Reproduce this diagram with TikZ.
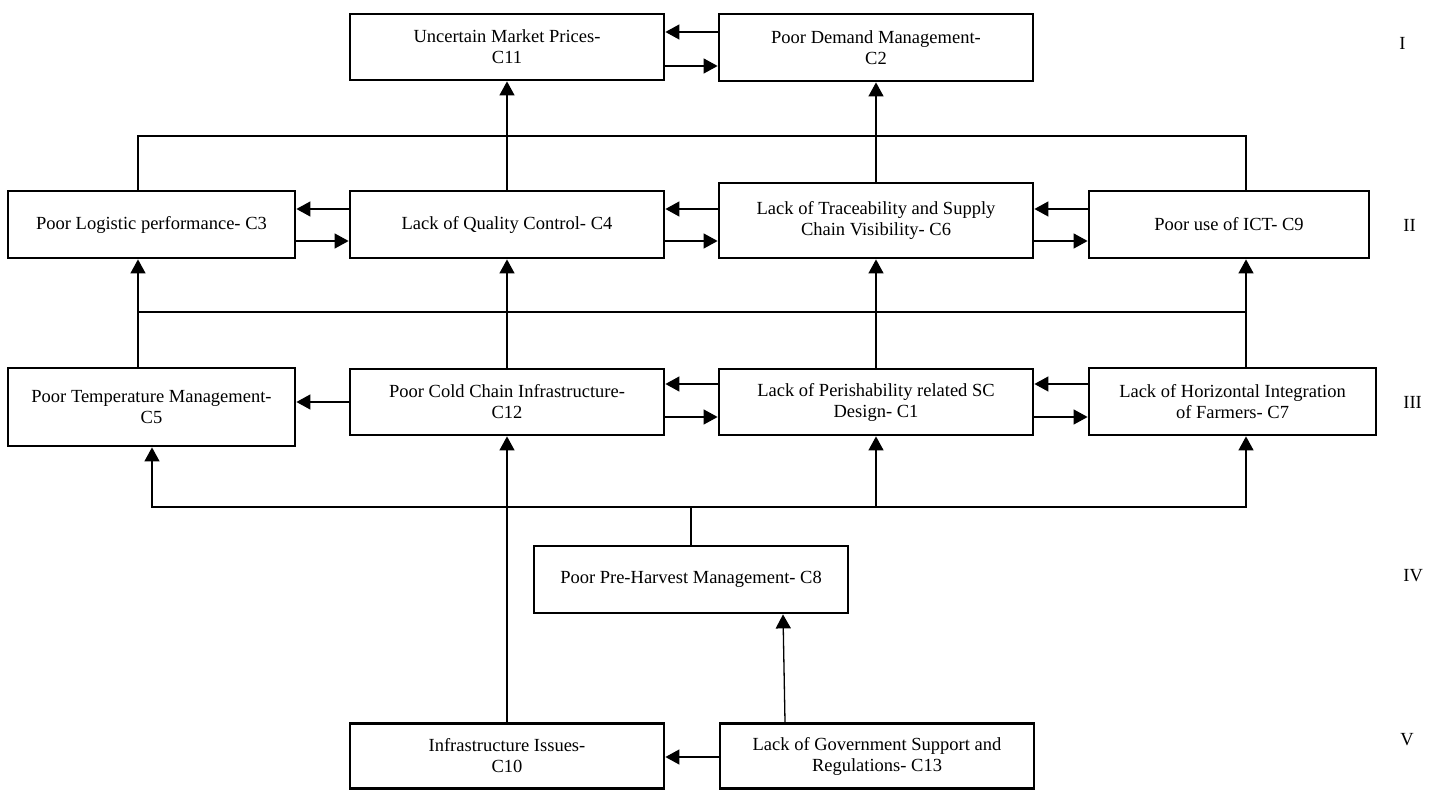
\documentclass[tikz,border=0pt]{standalone}
\usepackage{fontspec}
\setmainfont{Liberation Serif}
\usetikzlibrary{arrows.meta}
\begin{document}
\begin{tikzpicture}[x=0.5pt,y=-0.5pt,
  font=\fontsize{9.25}{10.5}\selectfont,
  box/.style={draw, line width=1.4pt, align=center, inner sep=0pt},
  conn/.style={line width=0.65pt},
  arr/.style={conn, -{Triangle[length=7pt,width=7.5pt]}},
  lvl/.style={anchor=west, inner sep=0pt}]
\useasboundingbox (0,0) rectangle (1438,790);
% level I
\node[box, minimum width=157pt, minimum height=33pt] (C11) at (507,47) {Uncertain Market Prices-\\C11};
\node[box, minimum width=157pt, minimum height=33.5pt] (C2) at (876,47.5) {Poor Demand Management-\\C2};
% level II
\node[box, minimum width=143.5pt, minimum height=33.5pt] (C3) at (151.5,224.5) {Poor Logistic performance- C3};
\node[box, minimum width=157pt, minimum height=33.5pt] (C4) at (507,224.5) {Lack of Quality Control- C4};
\node[box, minimum width=157pt, minimum height=37.5pt] (C6) at (876,220.5) {Lack of Traceability and Supply\\Chain Visibility- C6};
\node[box, minimum width=140pt, minimum height=33.5pt] (C9) at (1229,224.5) {Poor use of ICT- C9};
% level III
\node[box, minimum width=143.5pt, minimum height=39pt] (C5) at (151.5,407) {Poor Temperature Management-\\C5};
\node[box, minimum width=157pt, minimum height=33pt] (C12) at (507,402) {Poor Cold Chain Infrastructure-\\C12};
\node[box, minimum width=157pt, minimum height=33pt] (C1) at (876,402) {Lack of Perishability related SC\\Design- C1};
\node[box, minimum width=143.5pt, minimum height=33.5pt] (C7) at (1232.5,401.5) {Lack of Horizontal Integration\\of Farmers- C7};
% level IV
\node[box, minimum width=157pt, minimum height=33.5pt] (C8) at (691,579.5) {Poor Pre-Harvest Management- C8};
% level V
\node[box, minimum width=157pt, minimum height=32.5pt] (C10) at (507,756) {Infrastructure Issues-\\C10};
\node[box, minimum width=157pt, minimum height=32.5pt] (C13) at (877,756) {Lack of Government Support and\\Regulations- C13};
% level labels
\node[lvl] (L1) at (1399,43) {I};
\node[lvl] (L2) at (1403,225) {II};
\node[lvl] (L3) at (1403,402) {III};
\node[lvl] (L4) at (1403,576) {IV};
\node[lvl] (L5) at (1400,740) {V};
% bus coordinates
\coordinate (b1L) at (138,136);
\coordinate (b1R) at (1246,136);
\coordinate (b2L) at (138,312);
\coordinate (b2R) at (1246,312);
\coordinate (b3L) at (152,507);
\coordinate (b3M) at (691,507);
\coordinate (b3C) at (876,507);
\coordinate (b3R) at (1246,507);
% level I links
\draw[arr] (C2.west |- 0,32) -- (C11.east |- 0,32);
\draw[arr] (C11.east |- 0,66) -- (C2.west |- 0,66);
\draw[arr] (C4.north) -- (C11.south);
\draw[arr] (C6.north) -- (C2.south);
\draw[conn] (C3.north -| b1L) -- (b1L) -- (b1R) -- (C9.north -| b1R);
% level II links
\draw[arr] (C4.west |- 0,209) -- (C3.east |- 0,209);
\draw[arr] (C3.east |- 0,241) -- (C4.west |- 0,241);
\draw[arr] (C6.west |- 0,209) -- (C4.east |- 0,209);
\draw[arr] (C4.east |- 0,241) -- (C6.west |- 0,241);
\draw[arr] (C9.west |- 0,209) -- (C6.east |- 0,209);
\draw[arr] (C6.east |- 0,241) -- (C9.west |- 0,241);
% level III to II
\draw[conn] (b2L) -- (b2R);
\draw[arr] (C5.north -| b2L) -- (C3.south -| b2L);
\draw[arr] (C12.north) -- (C4.south);
\draw[arr] (C1.north) -- (C6.south);
\draw[arr] (C7.north -| b2R) -- (C9.south -| b2R);
% level III links
\draw[arr] (C12.west |- 0,402) -- (C5.east |- 0,402);
\draw[arr] (C1.west |- 0,384) -- (C12.east |- 0,384);
\draw[arr] (C12.east |- 0,417) -- (C1.west |- 0,417);
\draw[arr] (C7.west |- 0,384) -- (C1.east |- 0,384);
\draw[arr] (C1.east |- 0,417) -- (C7.west |- 0,417);
% level IV to III
\draw[conn] (C8.north) -- (b3M);
\draw[arr] (b3M) -- (b3L) -- (C5.south -| b3L);
\draw[arr] (b3M) -- (b3C) -- (C1.south);
\draw[arr] (b3C) -- (b3R) -- (C7.south -| b3R);
% level V
\draw[arr] (C10.north) -- (C12.south);
\draw[arr] (C13.west |- 0,757) -- (C10.east |- 0,757);
\draw[arr] (C13.north -| 785,0) -- (C8.south -| 783,0);
\end{tikzpicture}
\end{document}
